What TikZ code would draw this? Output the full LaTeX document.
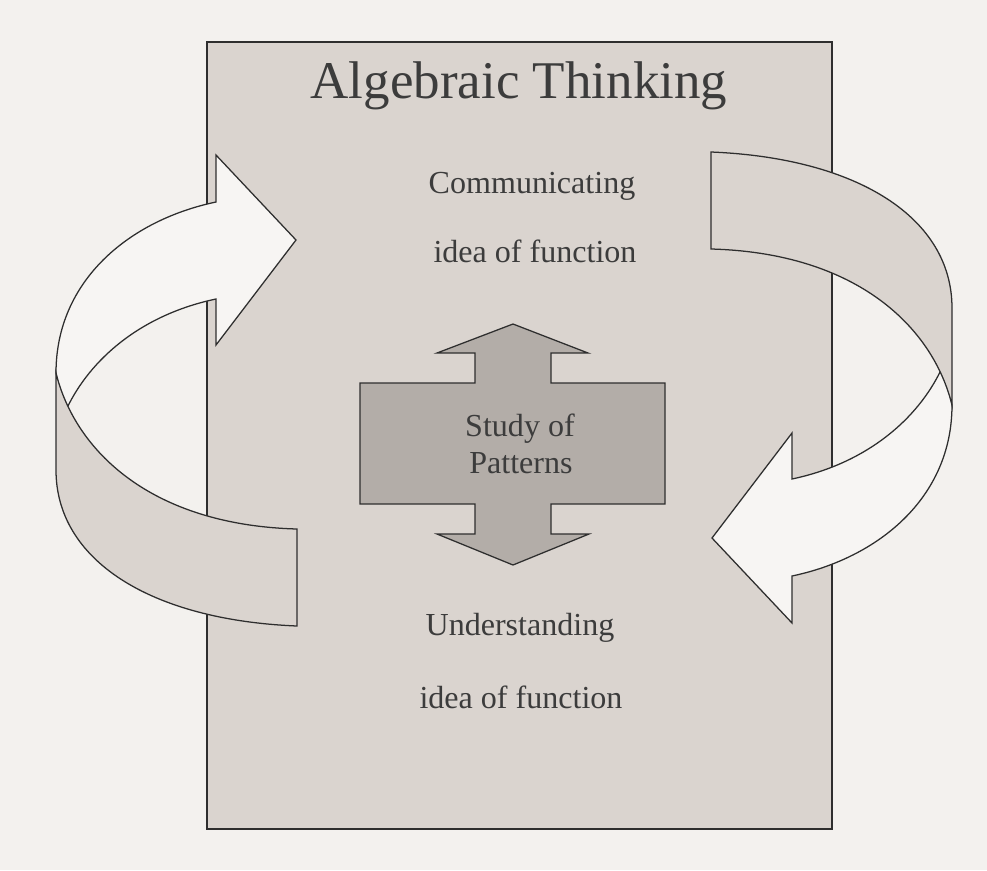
\documentclass[tikz,border=0pt]{standalone}
\usepackage{fontspec}
\setmainfont{Liberation Serif}
\definecolor{Paper}{HTML}{F3F1EE}
\definecolor{Stone}{HTML}{DAD4CF}
\definecolor{Slate}{HTML}{B3ADA8}
\definecolor{Chalk}{HTML}{F7F5F3}
\definecolor{Ink}{HTML}{2E2E2E}
\definecolor{Lead}{HTML}{3C3C3C}
\tikzset{frame/.style={draw=Ink,fill=Stone,line width=.9pt},front/.style={draw=Ink,fill=Chalk,line width=.9pt,line join=miter},back/.style={draw=Ink,fill=Stone,line width=.9pt},hub/.style={draw=Ink,fill=Slate,line width=.9pt},lab/.style={font=\fontsize{22.8}{24}\selectfont,text=Lead,anchor=base,inner sep=0pt},head/.style={font=\fontsize{37.7}{40}\selectfont,text=Lead,anchor=base,inner sep=0pt}}
\newcommand{\ribbon}{%
\draw[front] (216,202) .. controls (130,220) and (56,280) .. (56,373) .. controls (59,388) .. (67,408) .. controls (90,360) and (140,315) .. (216,299) -- (216,345) -- (296,240) -- (216,155) -- cycle;
\draw[back] (56,373) .. controls (75,450) and (150,525) .. (297,529) -- (297,626) .. controls (150,620) and (56,560) .. (56,470) -- cycle;}

\begin{document}
\begin{tikzpicture}[x=0.025cm,y=-0.025cm]
\fill[Paper] (0,0) rectangle (987,870);
\draw[frame] (207,42) rectangle (832,829);
\node[head] (title) at (519,98) {Algebraic Thinking};
\node[lab] (comm) at (532,193) {Communicating};
\node[lab] (commfn) at (535,262) {idea of function};
\node[lab] (under) at (520,635) {Understanding};
\node[lab] (underfn) at (521,708) {idea of function};
\ribbon
\begin{scope}[rotate around={180:(504,389)}]
\ribbon
\end{scope}
\draw[hub] (513,324) -- (588,353) -- (551,353) -- (551,383) -- (665,383) -- (665,504) -- (551,504) -- (551,534) -- (589,534) -- (513,565) -- (437,534) -- (475,534) -- (475,504) -- (360,504) -- (360,383) -- (475,383) -- (475,353) -- (437,353) -- cycle;
\node[lab] (study) at (520,436) {Study of};
\node[lab] (patterns) at (521,473) {Patterns};
\end{tikzpicture}
\end{document}
